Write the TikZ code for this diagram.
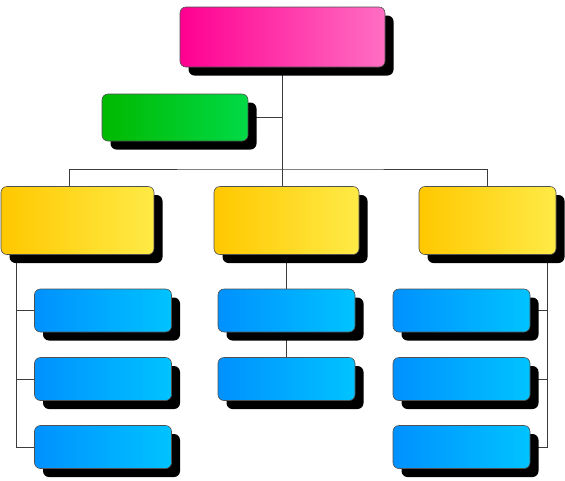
\documentclass[tikz,border=0pt]{standalone}
\usetikzlibrary{shadows,backgrounds,calc}
\definecolor{pinkL}{RGB}{255,0,145}
\definecolor{pinkR}{RGB}{255,110,195}
\definecolor{greenL}{RGB}{0,185,0}
\definecolor{greenR}{RGB}{0,218,70}
\definecolor{yelL}{RGB}{255,200,0}
\definecolor{yelM}{RGB}{255,222,0}
\definecolor{yelR}{RGB}{255,234,70}
\definecolor{bluL}{RGB}{0,145,255}
\definecolor{bluR}{RGB}{0,195,255}
\definecolor{edge}{RGB}{80,80,80}
\definecolor{wire}{RGB}{60,60,60}
\tikzset{
  box/.style={draw=edge, line width=0.6pt, rounded corners=6pt, inner sep=0pt,
    drop shadow={shadow xshift=8.5pt, shadow yshift=-8.5pt, opacity=1, fill=black}},
  pinkbox/.style={box, left color=pinkL, right color=pinkR, minimum width=205pt, minimum height=60pt},
  greenbox/.style={box, left color=greenL, right color=greenR, minimum width=146pt, minimum height=47pt},
  yelbox/.style={box, left color=yelL, middle color=yelM, right color=yelR, minimum height=68pt},
  blubox/.style={box, left color=bluL, right color=bluR, minimum width=137pt, minimum height=43pt},
  wireline/.style={draw=wire, line width=0.9pt}
}
\begin{document}
\begin{tikzpicture}[x=1pt,y=-1pt]
\useasboundingbox (0,0) rectangle (565,480);
\node[pinkbox] (pk) at (282.5,37) {};
\node[greenbox] (gr) at (175,117.5) {};
\node[yelbox, minimum width=153pt] (yl) at (77.5,220.5) {};
\node[yelbox, minimum width=145pt] (ym) at (286.5,220.5) {};
\node[yelbox, minimum width=137pt] (yr) at (487.5,220.5) {};
\node[blubox] (bl1) at (103,310.5) {};
\node[blubox] (bl2) at (103,379) {};
\node[blubox] (bl3) at (103,447) {};
\node[blubox] (bm1) at (286.5,310.5) {};
\node[blubox] (bm2) at (286.5,379) {};
\node[blubox] (br1) at (461.5,310.5) {};
\node[blubox] (br2) at (461.5,379) {};
\node[blubox] (br3) at (461.5,447) {};
\coordinate (hub) at (282.5,169);
\coordinate (ltop) at ([xshift=-8.5pt]yl.north);
\coordinate (ls) at ([xshift=16pt]yl.south west);
\coordinate (rs) at ([xshift=-9pt]yr.south east);
\begin{scope}[on background layer]
\draw[wireline] (pk.south) -- (hub);
\draw[wireline] (gr.east) -- (gr.east -| pk.south);
\draw[wireline] (ltop) |- (hub) -| (yr.north);
\draw[wireline] (hub) -- (hub |- ym.north);
\draw[wireline] (ym.south) -- (bm1.north);
\draw[wireline] (bm1.south) -- (bm2.north);
\draw[wireline] (ls) |- (bl3.west);
\draw[wireline] (ls |- bl1.west) -- (bl1.west);
\draw[wireline] (ls |- bl2.west) -- (bl2.west);
\draw[wireline] (rs) |- (br3.east);
\draw[wireline] (rs |- br1.east) -- (br1.east);
\draw[wireline] (rs |- br2.east) -- (br2.east);
\end{scope}
\end{tikzpicture}
\end{document}
